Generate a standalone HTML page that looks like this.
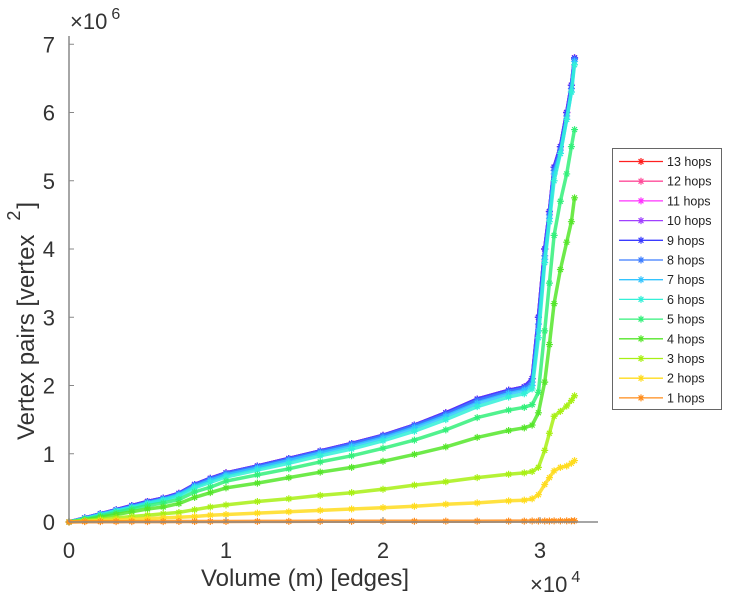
<!DOCTYPE html>
<html><head><meta charset="utf-8"><style>
body{margin:0;background:#fff}
svg{display:block;font-family:"Liberation Sans",sans-serif}
</style></head><body>
<svg id="chart" width="733" height="600" viewBox="0 0 733 600">
<g id="plot"></g>
<g id="axes"></g>
<g id="legend"></g>
</svg>
<script>
const xs = [0,0.1,0.2,0.3,0.4,0.5,0.6,0.7,0.8,0.9,1.0,1.2,1.4,1.6,1.8,2.0,2.2,2.4,2.6,2.8,2.9,2.95,2.99,3.03,3.06,3.09,3.13,3.17,3.2,3.22];
const labels = ["13 hops","12 hops","11 hops","10 hops","9 hops","8 hops","7 hops","6 hops","5 hops","4 hops","3 hops","2 hops","1 hops"];
const colors = ["#ff2020","#ff4c9a","#ff33ff","#a040ff","#3a3aff","#3c7cff","#33c4ff","#33f0d8","#33f07a","#55e62a","#a8f014","#ffdc1e","#ff8c1a"];
const y9 = [0,0.06,0.12,0.18,0.24,0.3,0.35,0.42,0.55,0.64,0.72,0.82,0.93,1.04,1.15,1.27,1.42,1.6,1.8,1.93,1.98,2.1,3.0,4.0,4.55,5.2,5.5,6.0,6.4,6.8];
const y8 = [0,0.06,0.12,0.17,0.23,0.29,0.34,0.41,0.54,0.63,0.71,0.81,0.92,1.03,1.14,1.26,1.41,1.58,1.78,1.91,1.96,2.05,2.9,3.9,4.5,5.15,5.45,5.95,6.35,6.78];
const y7 = [0,0.05,0.11,0.17,0.22,0.28,0.33,0.4,0.52,0.61,0.69,0.79,0.9,1.01,1.11,1.23,1.38,1.55,1.74,1.88,1.93,2.0,2.8,3.85,4.45,5.1,5.4,5.9,6.3,6.75];
const y6 = [0,0.05,0.1,0.16,0.21,0.27,0.32,0.38,0.5,0.58,0.66,0.76,0.86,0.97,1.07,1.19,1.33,1.5,1.69,1.83,1.88,1.95,2.7,3.8,4.4,5.0,5.4,5.9,6.3,6.7];
const y5 = [0,0.04,0.09,0.14,0.19,0.24,0.28,0.33,0.44,0.51,0.6,0.69,0.78,0.88,0.97,1.08,1.2,1.35,1.53,1.64,1.68,1.72,1.9,2.8,3.5,4.2,4.7,5.1,5.5,5.75];
const y4 = [0,0.03,0.07,0.11,0.15,0.19,0.22,0.27,0.36,0.43,0.5,0.57,0.65,0.73,0.8,0.89,0.99,1.1,1.24,1.34,1.38,1.42,1.6,2.05,2.6,3.2,3.7,4.1,4.4,4.75];
const y3 = [0,0.02,0.04,0.06,0.08,0.1,0.12,0.14,0.18,0.22,0.25,0.3,0.34,0.39,0.43,0.48,0.54,0.59,0.65,0.7,0.72,0.74,0.8,1.05,1.3,1.55,1.62,1.7,1.78,1.85];
const y2 = [0,0.01,0.02,0.03,0.04,0.05,0.06,0.07,0.08,0.1,0.11,0.13,0.15,0.17,0.19,0.21,0.23,0.26,0.28,0.31,0.32,0.34,0.4,0.55,0.65,0.75,0.8,0.82,0.86,0.9];
const y1 = [0,0.005,0.005,0.005,0.006,0.006,0.006,0.007,0.007,0.008,0.008,0.009,0.009,0.01,0.01,0.011,0.011,0.012,0.012,0.013,0.013,0.014,0.014,0.015,0.015,0.016,0.016,0.017,0.017,0.018];
const seriesY = [y9,y9,y9,y9,y9,y8,y7,y6,y5,y4,y3,y2,y1];
const xTicks = [0,1,2,3];
const yTicks = [0,1,2,3,4,5,6,7];

const NS="http://www.w3.org/2000/svg";
const X0=69, XS=157, Y0=522, YS=68.25;
const sx=v=>X0+v*XS, sy=v=>Y0-v*YS;
function mk(tag,attrs,parent){const e=document.createElementNS(NS,tag);for(const k in attrs)e.setAttribute(k,attrs[k]);parent.appendChild(e);return e;}
function star(g,cx,cy,c,r){
  const p=`M${cx-r},${cy}H${cx+r}M${cx},${cy-r}V${cy+r}M${cx-r*0.7},${cy-r*0.7}L${cx+r*0.7},${cy+r*0.7}M${cx-r*0.7},${cy+r*0.7}L${cx+r*0.7},${cy-r*0.7}`;
  const s=mk('path',{d:p,stroke:c,'stroke-width':1.2,fill:'none'},g);
  
  
}
const plot=document.getElementById('plot');
for(let i=0;i<labels.length;i++){
  const ys=seriesY[i];
  const g=mk('g',{},plot);
  
  
  const d=xs.map((x,j)=>(j?'L':'M')+sx(x).toFixed(1)+','+sy(ys[j]).toFixed(1)).join('');
  const ln=mk('path',{d:d,stroke:colors[i],'stroke-width':3.5,'stroke-opacity':0.85,'stroke-linejoin':'round',fill:'none'},g);
  
  
  xs.forEach((x,j)=>star(g,sx(x),sy(ys[j]),colors[i],3.5));
}
const ax=document.getElementById('axes');
const yl=mk('line',{x1:X0,y1:36,x2:X0,y2:Y0,stroke:'#888','stroke-width':1.5},ax);

const xl=mk('line',{x1:X0,y1:Y0,x2:598,y2:Y0,stroke:'#888','stroke-width':1.5},ax);

yTicks.forEach(v=>{
  mk('line',{x1:X0,y1:sy(v),x2:X0+5,y2:sy(v),stroke:'#888'},ax);
  const t=mk('text',{x:55,y:sy(v)+8,'text-anchor':'end','font-size':22,fill:'#333'},ax);
  t.textContent=v;
  
});
xTicks.forEach(v=>{
  mk('line',{x1:sx(v),y1:Y0,x2:sx(v),y2:Y0-5,stroke:'#888'},ax);
  const t=mk('text',{x:sx(v),y:558,'text-anchor':'middle','font-size':22,fill:'#333'},ax);
  t.textContent=v;
  
});
</script>
<script>
(function(){
const NS="http://www.w3.org/2000/svg";
function mk(tag,attrs,parent){const e=document.createElementNS(NS,tag);for(const k in attrs)e.setAttribute(k,attrs[k]);parent.appendChild(e);return e;}
const ax=document.getElementById('axes');
let t=mk('text',{x:70,y:29,'font-size':22,fill:'#333'},ax);
t.innerHTML='×10<tspan dy="-10" font-size="16" dx="4">6</tspan>';

t=mk('text',{x:530,y:592,'font-size':22,fill:'#333'},ax);
t.innerHTML='×10<tspan dy="-10" font-size="16" dx="4">4</tspan>';

t=mk('text',{x:305,y:586,'font-size':24,'text-anchor':'middle',fill:'#333'},ax);
t.textContent='Volume (m) [edges]';

t=mk('text',{x:0,y:0,'font-size':24,fill:'#333',transform:'translate(34,440) rotate(-90)'},ax);
t.innerHTML='Vertex pairs [vertex<tspan dy="-14" dx="14" font-size="18">2</tspan><tspan dy="14" dx="2">]</tspan>';

const lg=document.getElementById('legend');
const b=mk('rect',{x:612.5,y:148.5,width:109,height:261,fill:'#fff',stroke:'#666','stroke-width':1},lg);

const labels=["13 hops","12 hops","11 hops","10 hops","9 hops","8 hops","7 hops","6 hops","5 hops","4 hops","3 hops","2 hops","1 hops"];
const colors=["#ff2020","#ff4c9a","#ff33ff","#a040ff","#3a3aff","#3c7cff","#33c4ff","#33f0d8","#33f07a","#55e62a","#a8f014","#ffdc1e","#ff8c1a"];
labels.forEach((l,i)=>{
  const y=161.5+i*19.7;
  const g=mk('g',{},lg);
  
  
  mk('line',{x1:619,y1:y,x2:663,y2:y,stroke:colors[i],'stroke-width':1.3},g);
  const r=3.5,cx=641;
  mk('path',{d:`M${cx-r},${y}H${cx+r}M${cx},${y-r}V${y+r}M${cx-r*0.7},${y-r*0.7}L${cx+r*0.7},${y+r*0.7}M${cx-r*0.7},${y+r*0.7}L${cx+r*0.7},${y-r*0.7}`,stroke:colors[i],fill:'none','stroke-width':1.2},g);
  const tt=mk('text',{x:667,y:y+4.5,'font-size':12.5,fill:'#222'},g);
  tt.textContent=l;
});
})();
</script>
</body></html>
